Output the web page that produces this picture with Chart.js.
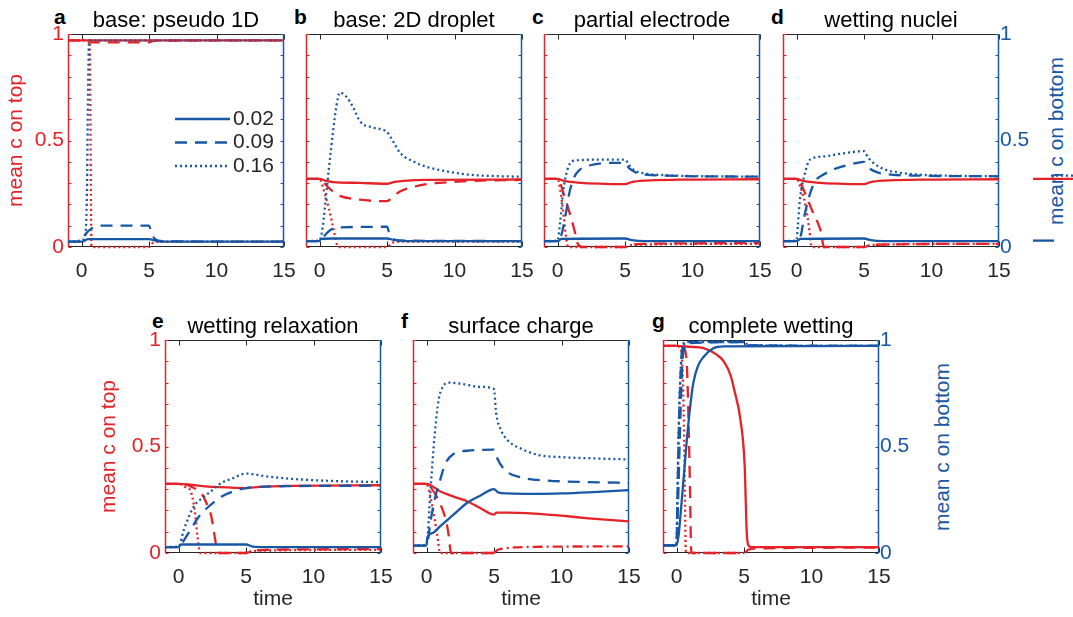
<!DOCTYPE html>
<html>
<head>
<meta charset="utf-8">
<title>mean c on top / bottom</title>
<script src="https://cdn.jsdelivr.net/npm/chart.js@4.4.1/dist/chart.umd.min.js"></script>
<style>
  html, body { margin: 0; padding: 0; background: #fff; }
  body { position: relative; width: 1073px; height: 617px; overflow: hidden; font-family: "Liberation Sans", Arial, sans-serif; }
  canvas { position: absolute; }
  .letter { position: absolute; font-size: 21px; font-weight: bold; line-height: 21px; color: #000; }
  .rtitle { position: absolute; font-size: 21px; line-height: 21px; color: #1857a4; white-space: nowrap; transform: translate(-50%, -50%) rotate(-90deg); }
</style>
</head>
<body>
<div class="letter" style="left:54px;top:6px">a</div>
<div class="letter" style="left:294px;top:6px">b</div>
<div class="letter" style="left:532px;top:6px">c</div>
<div class="letter" style="left:771px;top:6px">d</div>
<div class="letter" style="left:152px;top:310px">e</div>
<div class="letter" style="left:401px;top:310px">f</div>
<div class="letter" style="left:652px;top:310px">g</div>
<div class="rtitle" style="left:1055px;top:141px">mean c on bottom</div>
<div class="rtitle" style="left:941px;top:447px">mean c on bottom</div>
<script>
// axis ticks
const xTicks = [0, 5, 10, 15]
const yTicks = [0, 0.1, 0.2, 0.3, 0.4, 0.5, 0.6, 0.7, 0.8, 0.9, 1]
const yLabels = [0, 0.5, 1]
const legendLabels = ["0.02", "0.09", "0.16"]

// each series is a list of [time, mean c]
// "Top" = mean c on top (red, left axis), "Bot" = mean c on bottom (blue, right axis)

// a: base: pseudo 1D
const aTopSolid = [[-1, 0.97], [15, 0.97]]
const aTopDash = [[-1, 0.97], [0, 0.97], [0.4, 0.961], [5, 0.961], [5.4, 0.969], [15, 0.97]]
const aTopDot = [[-1, 0.97], [0.6, 0.97], [0.66, 0.6], [0.7, 0.2], [0.74, 0], [5, 0], [5.3, 0.02], [6, 0.025], [15, 0.025]]
const aBotSolid = [[-1, 0.025], [0, 0.025], [0.5, 0.037], [5, 0.037], [5.5, 0.029], [6.2, 0.025], [15, 0.025]]
const aBotDash = [[-1, 0.025], [0, 0.025], [0.3, 0.06], [0.7, 0.085], [1.3, 0.1], [5, 0.1], [5.15, 0.075], [5.4, 0.04], [6, 0.027], [15, 0.025]]
const aBotDot = [[-1, 0.025], [0, 0.03], [0.3, 0.07], [0.4, 0.25], [0.48, 0.7], [0.55, 0.95], [0.65, 0.97], [15, 0.97]]

// b: base: 2D droplet
const bTopSolid = [[-1, 0.32], [0, 0.32], [0.5, 0.31], [1, 0.305], [3, 0.301], [5, 0.297], [5.5, 0.305], [6.5, 0.312], [8, 0.315], [15, 0.317]]
const bTopDash = [[-1, 0.32], [0, 0.32], [0.5, 0.29], [1, 0.26], [1.5, 0.24], [3, 0.222], [5, 0.215], [5.5, 0.24], [6, 0.262], [7, 0.283], [8, 0.296], [10, 0.306], [12, 0.312], [15, 0.315]]
const bTopDot = [[-1, 0.32], [0, 0.32], [0.3, 0.27], [0.7, 0.18], [1.05, 0.08], [1.3, 0.01], [1.4, 0], [5, 0], [5.4, 0.02], [6, 0.025], [15, 0.025]]
const bBotSolid = [[-1, 0.028], [0, 0.028], [0.1, 0.038], [1, 0.04], [5, 0.04], [5.5, 0.033], [6.5, 0.028], [15, 0.028]]
const bBotDash = [[-1, 0.028], [0, 0.028], [0.4, 0.055], [0.8, 0.08], [1.5, 0.092], [5, 0.095], [5.15, 0.07], [5.4, 0.042], [6, 0.03], [15, 0.028]]
const bBotDot = [[-1, 0.028], [0, 0.03], [0.25, 0.1], [0.5, 0.25], [0.75, 0.4], [1, 0.54], [1.25, 0.66], [1.5, 0.725], [2, 0.705], [2.5, 0.655], [3, 0.59], [4, 0.56], [5, 0.54], [5.5, 0.49], [6, 0.44], [7, 0.4], [8, 0.375], [9, 0.36], [11, 0.34], [13, 0.333], [15, 0.33]]

// c: partial electrode
const cTopSolid = [[-1, 0.32], [0, 0.32], [0.5, 0.31], [1.5, 0.302], [5, 0.295], [5.5, 0.305], [6.5, 0.312], [9, 0.316], [15, 0.318]]
const cTopDash = [[-1, 0.32], [0, 0.32], [0.2, 0.3], [0.5, 0.24], [0.9, 0.16], [1.25, 0.08], [1.5, 0.015], [1.8, 0], [5, 0], [5.5, 0.01], [6.5, 0.015], [15, 0.018]]
const cTopDot = [[-1, 0.32], [0, 0.32], [0.2, 0.27], [0.45, 0.15], [0.65, 0.04], [0.78, 0], [5, 0], [5.5, 0.01], [15, 0.015]]
const cBotSolid = [[-1, 0.028], [0, 0.028], [0.3, 0.038], [5, 0.04], [5.5, 0.032], [6.5, 0.028], [15, 0.028]]
const cBotDash = [[-1, 0.028], [0, 0.028], [0.3, 0.06], [0.6, 0.15], [0.9, 0.26], [1.25, 0.33], [1.6, 0.36], [2.5, 0.385], [4, 0.395], [5, 0.395], [5.3, 0.37], [5.8, 0.35], [6.5, 0.34], [8, 0.335], [15, 0.33]]
const cBotDot = [[-1, 0.028], [0, 0.03], [0.2, 0.12], [0.4, 0.25], [0.6, 0.33], [0.9, 0.39], [1.2, 0.405], [3, 0.41], [5, 0.41], [5.3, 0.385], [5.7, 0.36], [6.5, 0.345], [8, 0.337], [10, 0.333], [15, 0.33]]

// d: wetting nuclei
const dTopSolid = [[-1, 0.32], [0, 0.32], [0.5, 0.31], [1.5, 0.302], [5, 0.295], [5.5, 0.305], [6.5, 0.312], [9, 0.316], [15, 0.318]]
const dTopDash = [[-1, 0.32], [0, 0.32], [0.3, 0.3], [0.75, 0.235], [1.25, 0.157], [1.6, 0.11], [1.85, 0.06], [1.97, 0.01], [2.05, 0], [5, 0], [5.5, 0.01], [15, 0.015]]
const dTopDot = [[-1, 0.32], [0, 0.32], [0.3, 0.28], [0.65, 0.2], [0.95, 0.08], [1.08, 0.01], [1.15, 0], [5, 0], [5.5, 0.01], [15, 0.015]]
const dBotSolid = [[-1, 0.028], [0, 0.028], [0.3, 0.038], [5, 0.04], [5.5, 0.032], [6.5, 0.028], [15, 0.028]]
const dBotDash = [[-1, 0.028], [0, 0.028], [0.3, 0.05], [0.6, 0.15], [1, 0.25], [1.4, 0.31], [2, 0.34], [3, 0.37], [4.5, 0.395], [5, 0.4], [5.3, 0.375], [6, 0.35], [7, 0.34], [9, 0.335], [15, 0.332]]
const dBotDot = [[-1, 0.028], [0, 0.03], [0.1, 0.1], [0.25, 0.22], [0.6, 0.34], [1, 0.41], [2, 0.425], [3.5, 0.44], [5, 0.45], [5.3, 0.42], [5.8, 0.39], [6.5, 0.365], [7.5, 0.35], [9, 0.34], [11, 0.335], [15, 0.332]]

// e: wetting relaxation
const eTopSolid = [[-1, 0.325], [0, 0.325], [1, 0.32], [2, 0.313], [3, 0.309], [5, 0.305], [6, 0.31], [8, 0.315], [15, 0.318]]
const eTopDash = [[-1, 0.325], [0, 0.325], [1, 0.31], [1.8, 0.27], [2.1, 0.23], [2.4, 0.18], [2.6, 0.11], [2.75, 0.05], [2.9, 0.01], [3, 0], [5, 0], [5.5, 0.01], [6.5, 0.015], [15, 0.018]]
const eTopDot = [[-1, 0.325], [0, 0.325], [0.5, 0.31], [0.9, 0.29], [1.2, 0.2], [1.4, 0.08], [1.55, 0.01], [1.65, 0], [5, 0], [5.5, 0.01], [15, 0.015]]
const eBotSolid = [[-1, 0.028], [0, 0.028], [0.2, 0.04], [5, 0.04], [5.5, 0.03], [6.5, 0.028], [15, 0.028]]
const eBotDash = [[-1, 0.028], [0, 0.028], [0.3, 0.05], [0.9, 0.11], [1.5, 0.17], [2.4, 0.227], [3.2, 0.265], [4.1, 0.29], [5, 0.305], [6, 0.31], [8, 0.314], [15, 0.316]]
const eBotDot = [[-1, 0.028], [0, 0.03], [0.4, 0.11], [1.15, 0.22], [1.8, 0.26], [2.4, 0.29], [3.2, 0.33], [4, 0.35], [5, 0.373], [5.5, 0.37], [6.5, 0.36], [8, 0.35], [10, 0.342], [12, 0.337], [15, 0.333]]

// f: surface charge
const fTopSolid = [[-1, 0.325], [0, 0.325], [1, 0.29], [2, 0.265], [3, 0.243], [4, 0.21], [5, 0.18], [5.2, 0.19], [6, 0.19], [8, 0.185], [10, 0.175], [12, 0.163], [15, 0.148]]
const fTopDash = [[-1, 0.325], [0, 0.325], [0.4, 0.3], [0.8, 0.26], [1.15, 0.21], [1.45, 0.15], [1.65, 0.08], [1.75, 0.02], [1.82, 0], [5, 0]]
const fTopDot = [[-1, 0.325], [0, 0.325], [0.3, 0.26], [0.6, 0.16], [0.85, 0.06], [0.95, 0.01], [1, 0], [5, 0]]
const fTopDashDot = [[5, 0], [5.2, 0.012], [5.6, 0.02], [6.5, 0.026], [8, 0.029], [15, 0.031]]
const fBotSolid = [[-1, 0.035], [0, 0.035], [0.05, 0.068], [0.5, 0.095], [1, 0.125], [2, 0.18], [3, 0.235], [4, 0.27], [5, 0.3], [5.3, 0.285], [6, 0.28], [8, 0.278], [10, 0.28], [12, 0.285], [15, 0.295]]
const fBotDash = [[-1, 0.035], [0, 0.035], [0.3, 0.15], [0.6, 0.25], [1, 0.34], [1.4, 0.42], [2, 0.465], [3, 0.48], [5, 0.485], [5.2, 0.45], [5.8, 0.39], [7, 0.355], [9, 0.34], [12, 0.333], [15, 0.329]]
const fBotDot = [[-1, 0.035], [0, 0.04], [0.3, 0.3], [0.6, 0.55], [0.9, 0.72], [1.2, 0.78], [1.6, 0.8], [2.5, 0.795], [4, 0.78], [5, 0.77], [5.15, 0.66], [5.5, 0.58], [6, 0.53], [7, 0.49], [8.3, 0.46], [10, 0.45], [12, 0.445], [15, 0.439]]

// g: complete wetting
const gTopSolid = [[-1, 0.972], [0, 0.972], [1, 0.968], [2, 0.962], [3, 0.93], [3.5, 0.9], [4, 0.835], [4.3, 0.76], [4.7, 0.64], [5.05, 0.41], [5.2, 0.1], [5.3, 0.04], [5.5, 0.028], [15, 0.028]]
const gTopDash = [[-1, 0.972], [0, 0.972], [0.5, 0.965], [0.75, 0.9], [0.9, 0.6], [1, 0.3], [1.08, 0.02], [1.12, 0], [5, 0], [5.3, 0.015], [6, 0.022], [15, 0.025]]
const gTopDot = [[-1, 0.972], [0, 0.972], [0.3, 0.96], [0.45, 0.85], [0.55, 0.6], [0.62, 0.3], [0.68, 0.02], [0.72, 0], [5, 0]]
const gBotSolid = [[-1, 0.036], [0, 0.036], [0.15, 0.08], [0.3, 0.18], [0.5, 0.33], [0.75, 0.52], [1, 0.68], [1.25, 0.8], [1.6, 0.88], [2, 0.92], [2.7, 0.96], [3.5, 0.97], [15, 0.972]]
const gBotDash = [[-1, 0.036], [0, 0.036], [0.1, 0.2], [0.25, 0.55], [0.4, 0.85], [0.55, 0.96], [0.8, 0.985], [5, 0.99], [5.3, 0.975], [15, 0.972]]
const gBotDot = [[-1, 0.036], [0, 0.036], [0.05, 0.2], [0.15, 0.55], [0.3, 0.85], [0.45, 0.97], [0.7, 0.993], [5, 0.995], [5.3, 0.975], [15, 0.972]]
const gBotDashDot = [[-1, 0.036], [0, 0.036], [0.08, 0.3], [0.2, 0.65], [0.35, 0.9], [0.5, 0.97], [0.8, 0.99], [5, 0.99], [5.3, 0.975], [15, 0.972]]

// bit of a cut-off panel at the far right edge
const stubTop = [[0, 0.32], [40, 0.32]]
const stubBotDot = [[18, 0.335], [40, 0.335]]
const stubBot = [[0, 0.03], [21, 0.03]]

const RED = "#e42228"
const BLUE = "#1857a4"
const TEXT = "#262626"
const FONT = '"Liberation Sans", Arial, sans-serif'
const DASH = { solid: [], dash: [12, 8], dot: [2, 3], dashdot: [10, 4, 2, 4] }

Chart.defaults.font.family = FONT
Chart.defaults.font.size = 21

// plot box size and the margins round it inside each canvas
const PW = 216, PH = 213
const ML = 70, MR = 70, MT = 34, MB = 62

function series(pts, color, dash, axis) {
    return {
        data: pts.map(p => ({ x: p[0], y: p[1] })),
        borderColor: color,
        borderWidth: 2.3,
        borderDash: dash,
        pointRadius: 0,
        fill: false,
        yAxisID: axis,
        cubicInterpolationMode: "monotone",
        clip: 4,
    }
}

// blue first so it sits on top of the red
function buildDatasets(bot, top) {
    const out = []
    for (const k in bot) out.push(series(bot[k], BLUE, DASH[k], "yR"))
    for (const k in top) out.push(series(top[k], RED, DASH[k], "yL"))
    return out
}

// box with inward ticks: black top/bottom, red left, blue right
const framePlugin = {
    id: "frame",
    beforeDatasetsDraw(chart) {
        const { ctx, chartArea: a, scales } = chart
        const L = a.left + 0.5, R = a.right - 0.5, T = a.top + 0.5, B = a.bottom - 0.5
        const seg = (x1, y1, x2, y2, c, w) => {
            ctx.strokeStyle = c
            ctx.lineWidth = w || 1
            ctx.beginPath()
            ctx.moveTo(x1, y1)
            ctx.lineTo(x2, y2)
            ctx.stroke()
        }
        ctx.save()
        ctx.setLineDash([])
        seg(L, T, R, T, TEXT)
        seg(L, B, R, B, TEXT)
        xTicks.forEach(v => {
            const x = Math.round(scales.x.getPixelForValue(v)) + 0.5
            seg(x, T, x, T + 5, TEXT)
            seg(x, B, x, B - 5, TEXT)
        })
        yTicks.forEach(v => {
            const y = Math.round(scales.yL.getPixelForValue(v)) + 0.5
            seg(L, y, L + 3, y, RED)
            seg(R, y, R - 3, y, BLUE)
        })
        seg(L, T - 0.5, L, B + 0.5, RED, 1.5)
        seg(R, T - 0.5, R, B + 0.5, BLUE, 1.5)
        ctx.restore()
    },
}

// legend inside panel a
const legendPlugin = {
    id: "inlineLegend",
    afterDatasetsDraw(chart) {
        const { ctx, chartArea: a } = chart
        const dashes = [DASH.solid, DASH.dash, DASH.dot]
        ctx.save()
        legendLabels.forEach((txt, i) => {
            const y = a.top + 85 + i * 23.5
            ctx.strokeStyle = BLUE
            ctx.lineWidth = 2.3
            ctx.setLineDash(dashes[i])
            ctx.beginPath()
            ctx.moveTo(a.left + 107, y)
            ctx.lineTo(a.left + 162, y)
            ctx.stroke()
            ctx.setLineDash([])
            ctx.fillStyle = TEXT
            ctx.font = "21px " + FONT
            ctx.textBaseline = "middle"
            ctx.fillText(txt, a.left + 165, y)
        })
        ctx.restore()
    },
}

const panels = [
    { title: "base: pseudo 1D", left: 68, top: 34, leftLab: true, rightLab: false, time: false, tPad: 5.6, legend: true,
      top_: { solid: aTopSolid, dash: aTopDash, dot: aTopDot }, bot: { solid: aBotSolid, dash: aBotDash, dot: aBotDot } },
    { title: "base: 2D droplet", left: 306, top: 34, leftLab: false, rightLab: false, time: false,
      top_: { solid: bTopSolid, dash: bTopDash, dot: bTopDot }, bot: { solid: bBotSolid, dash: bBotDash, dot: bBotDot } },
    { title: "partial electrode", left: 544, top: 34, leftLab: false, rightLab: false, time: false,
      top_: { solid: cTopSolid, dash: cTopDash, dot: cTopDot }, bot: { solid: cBotSolid, dash: cBotDash, dot: cBotDot } },
    { title: "wetting nuclei", left: 783, top: 34, leftLab: false, rightLab: true, time: false,
      top_: { solid: dTopSolid, dash: dTopDash, dot: dTopDot }, bot: { solid: dBotSolid, dash: dBotDash, dot: dBotDot } },
    { title: "wetting relaxation", left: 165, top: 340, leftLab: true, rightLab: false, time: true, tPad: 1.7,
      top_: { solid: eTopSolid, dash: eTopDash, dot: eTopDot }, bot: { solid: eBotSolid, dash: eBotDash, dot: eBotDot } },
    { title: "surface charge", left: 413, top: 340, leftLab: false, rightLab: false, time: true,
      top_: { solid: fTopSolid, dash: fTopDash, dot: fTopDot, dashdot: fTopDashDot }, bot: { solid: fBotSolid, dash: fBotDash, dot: fBotDot } },
    { title: "complete wetting", left: 663, top: 340, leftLab: false, rightLab: true, time: true,
      top_: { solid: gTopSolid, dash: gTopDash, dot: gTopDot }, bot: { solid: gBotSolid, dash: gBotDash, dot: gBotDot, dashdot: gBotDashDot } },
]

function addCanvas(left, top, w, h) {
    const cv = document.createElement("canvas")
    cv.width = w
    cv.height = h
    cv.style.left = left + "px"
    cv.style.top = top + "px"
    document.body.appendChild(cv)
    return cv
}

const yLabel = v => (yLabels.some(l => Math.abs(l - v) < 1e-9) ? String(v) : "")

function makePanel(p) {
    const cv = addCanvas(p.left - ML, p.top - MT, PW + ML + MR, PH + MT + MB)
    return new Chart(cv, {
        type: "line",
        data: { datasets: buildDatasets(p.bot, p.top_) },
        options: {
            responsive: false,
            animation: false,
            events: [],
            layout: { padding: 0 },
            plugins: {
                legend: { display: false },
                tooltip: { enabled: false },
                title: {
                    display: true,
                    text: p.title,
                    fullSize: false,
                    color: "#000",
                    font: { size: 22, weight: "normal" },
                    padding: { top: MT - 26.4, bottom: 0 },
                },
            },
            scales: {
                x: {
                    type: "linear",
                    min: -1,
                    max: 15,
                    grid: { display: false, drawTicks: false },
                    border: { display: false },
                    afterBuildTicks: s => { s.ticks = xTicks.map(v => ({ value: v })) },
                    afterFit: s => { s.height = MB },
                    ticks: { padding: 12, color: TEXT, autoSkip: false, maxRotation: 0, callback: v => String(v) },
                    title: { display: p.time, text: "time", color: TEXT, padding: { top: 0, bottom: 2.7 } },
                },
                yL: {
                    position: "left",
                    min: 0,
                    max: 1,
                    grid: { display: false, drawTicks: false },
                    border: { display: false },
                    afterBuildTicks: s => { s.ticks = yTicks.map(v => ({ value: v })) },
                    afterFit: s => { s.width = ML },
                    ticks: { display: p.leftLab, padding: 4, color: RED, autoSkip: false, callback: yLabel },
                    title: { display: p.leftLab, text: "mean c on top", color: RED, padding: { top: p.tPad || 0, bottom: 0 } },
                },
                yR: {
                    position: "right",
                    min: 0,
                    max: 1,
                    grid: { display: false, drawTicks: false },
                    border: { display: false },
                    afterBuildTicks: s => { s.ticks = yTicks.map(v => ({ value: v })) },
                    afterFit: s => { s.width = MR },
                    ticks: { display: p.rightLab, padding: 1, color: BLUE, autoSkip: false, callback: yLabel },
                },
            },
        },
        plugins: p.legend ? [framePlugin, legendPlugin] : [framePlugin],
    })
}

panels.forEach(makePanel)

// the sliver at the right edge
new Chart(addCanvas(1033, 34, 40, PH), {
    type: "line",
    data: {
        datasets: [
            series(stubBotDot, BLUE, DASH.dot, "y"),
            series(stubBot, BLUE, DASH.solid, "y"),
            series(stubTop, RED, DASH.solid, "y"),
        ],
    },
    options: {
        responsive: false,
        animation: false,
        events: [],
        layout: { padding: 0 },
        plugins: { legend: { display: false }, tooltip: { enabled: false } },
        scales: {
            x: { type: "linear", min: 0, max: 40, display: false },
            y: { min: 0, max: 1, display: false },
        },
    },
})
</script>
</body>
</html>
